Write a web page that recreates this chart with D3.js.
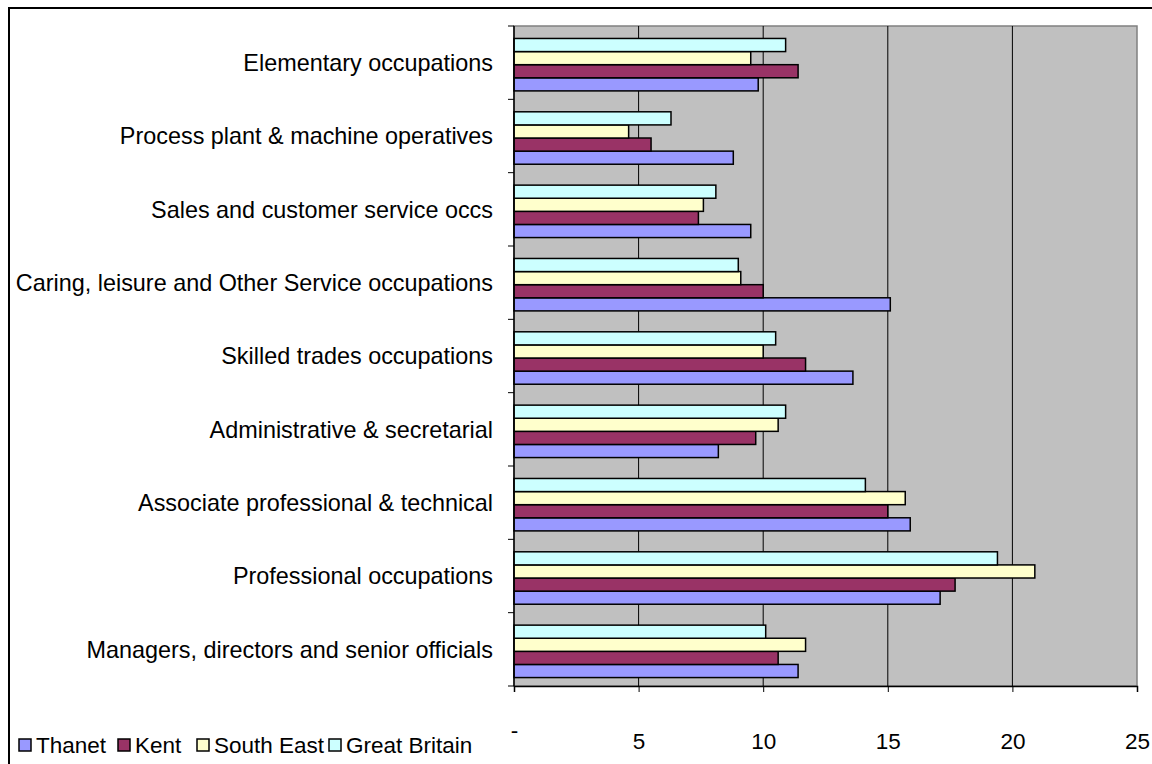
<!DOCTYPE html>
<html>
<head>
<meta charset="utf-8">
<script src="https://cdn.jsdelivr.net/npm/d3@7"></script>
<style>
  body { margin: 0; background: #fff; }
  svg { display: block; font-family: "Liberation Sans", Arial, sans-serif; }
</style>
</head>
<body>
<svg id="chart" width="1152" height="764"></svg>
<script>
var width = 1152, height = 764;

// occupation groups, top to bottom
var categories = [
  "Elementary occupations",
  "Process plant & machine operatives",
  "Sales and customer service occs",
  "Caring, leisure and Other Service occupations",
  "Skilled trades occupations",
  "Administrative & secretarial",
  "Associate professional & technical",
  "Professional occupations",
  "Managers, directors and senior officials"
];

var seriesNames = ["Thanet", "Kent", "South East", "Great Britain"];
var thanet      = [9.8, 8.8, 9.5, 15.1, 13.6, 8.2, 15.9, 17.1, 11.4];
var kent        = [11.4, 5.5, 7.4, 10.0, 11.7, 9.7, 15.0, 17.7, 10.6];
var southEast   = [9.5, 4.6, 7.6, 9.1, 10.0, 10.6, 15.7, 20.9, 11.7];
var greatBritain = [10.9, 6.3, 8.1, 9.0, 10.5, 10.9, 14.1, 19.4, 10.1];
var xTicks = [0, 5, 10, 15, 20, 25];

var colors = {"Thanet": "#9999ff", "Kent": "#993366", "South East": "#ffffcc", "Great Britain": "#ccffff"};
var seriesData = {"Thanet": thanet, "Kent": kent, "South East": southEast, "Great Britain": greatBritain};

var plotLeft = 514, plotRight = 1137, plotTop = 26, plotBottom = 686;

var svg = d3.select("#chart");

// outer chart frame
svg.append("rect")
  .attr("x", 9).attr("y", 8)
  .attr("width", 1160).attr("height", 800)
  .attr("fill", "none").attr("stroke", "#000").attr("stroke-width", 2);

var x = d3.scaleLinear().domain([0, 25]).range([plotLeft, plotRight]);
var y = d3.scaleBand().domain(categories).range([plotTop, plotBottom]).padding(0);

// bars drawn GB on top, Thanet at bottom of each group
var inner = d3.scaleBand()
  .domain(["Great Britain", "South East", "Kent", "Thanet"])
  .range([y.bandwidth() * 0.17, y.bandwidth() * 0.885]);

// plot area
svg.append("rect")
  .attr("x", plotLeft).attr("y", plotTop)
  .attr("width", plotRight - plotLeft).attr("height", plotBottom - plotTop)
  .attr("fill", "#c0c0c0").attr("stroke", "#808080").attr("stroke-width", 1.5);

// gridlines
svg.append("g").selectAll("line")
  .data(xTicks.filter(function(d) { return d > 0 && d < 25; }))
  .enter().append("line")
  .attr("x1", function(d) { return x(d); }).attr("x2", function(d) { return x(d); })
  .attr("y1", plotTop).attr("y2", plotBottom)
  .attr("stroke", "#000").attr("stroke-width", 1);

// bars
var groups = svg.append("g").selectAll("g")
  .data(categories)
  .enter().append("g")
  .attr("transform", function(d) { return "translate(0," + y(d) + ")"; });

groups.selectAll("rect")
  .data(function(d, i) {
    return seriesNames.map(function(s) { return {series: s, value: seriesData[s][i]}; });
  })
  .enter().append("rect")
  .attr("x", x(0))
  .attr("y", function(d) { return inner(d.series); })
  .attr("width", function(d) { return x(d.value) - x(0); })
  .attr("height", inner.bandwidth())
  .attr("fill", function(d) { return colors[d.series]; })
  .attr("stroke", "#000").attr("stroke-width", 1.5);

// x axis
var xAxis = d3.axisBottom(x).tickValues(xTicks).tickSize(6)
  .tickFormat(function(d) { return d === 0 ? "-" : d; });
var gx = svg.append("g")
  .attr("transform", "translate(0," + plotBottom + ")")
  .call(xAxis);
gx.select(".domain").attr("stroke", "#000").attr("stroke-width", 1.5);
gx.selectAll(".tick line").attr("stroke", "#000");
gx.selectAll(".tick text")
  .attr("font-size", 22.5).attr("font-family", "Liberation Sans, Arial, sans-serif")
  .attr("fill", "#000").attr("y", 63).attr("dy", 0);
gx.selectAll(".tick text").filter(function(d) { return d === 0; }).attr("y", 52);

// y axis: ticks at category boundaries
svg.append("line")
  .attr("x1", plotLeft).attr("x2", plotLeft)
  .attr("y1", plotTop).attr("y2", plotBottom)
  .attr("stroke", "#000").attr("stroke-width", 1.5);
var boundaries = categories.map(function(d) { return y(d); }).concat([plotBottom]);
svg.append("g").selectAll("line")
  .data(boundaries)
  .enter().append("line")
  .attr("x1", plotLeft - 6).attr("x2", plotLeft)
  .attr("y1", function(d) { return d; }).attr("y2", function(d) { return d; })
  .attr("stroke", "#000");

svg.append("g").selectAll("text")
  .data(categories)
  .enter().append("text")
  .attr("x", 493)
  .attr("y", function(d) { return y(d) + y.bandwidth() / 2; })
  .attr("dy", "0.35em")
  .attr("text-anchor", "end")
  .attr("font-size", 23.4)
  .text(function(d) { return d; });

// legend
var legendX = [19, 118, 197, 329];
var legend = svg.append("g").selectAll("g")
  .data(seriesNames)
  .enter().append("g")
  .attr("transform", function(d, i) { return "translate(" + legendX[i] + ",739)"; });
legend.append("rect")
  .attr("width", 12).attr("height", 12)
  .attr("fill", function(d) { return colors[d]; })
  .attr("stroke", "#000").attr("stroke-width", 1.5);
legend.append("text")
  .attr("x", 17).attr("y", 6).attr("dy", "0.35em")
  .attr("font-size", 22.5)
  .text(function(d) { return d; });
</script>
</body>
</html>
